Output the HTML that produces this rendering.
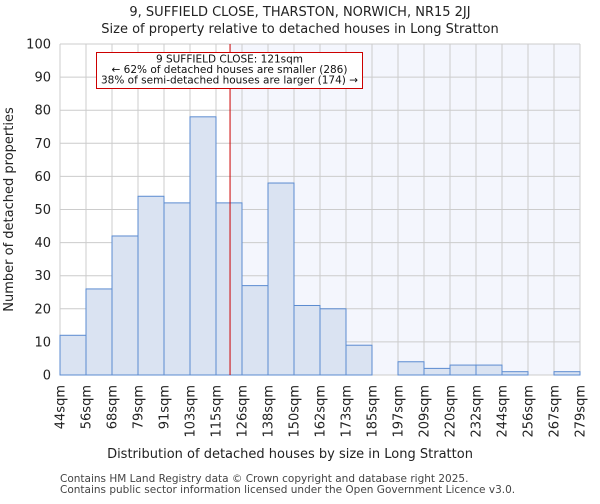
<!DOCTYPE html>
<html><head><meta charset="utf-8"><style>
body{margin:0;background:#fff;font-family:"DejaVu Sans","Liberation Sans",sans-serif}
</style></head><body>
<svg id="c" width="600" height="500" xmlns="http://www.w3.org/2000/svg" font-family="DejaVu Sans, Liberation Sans, sans-serif"></svg>
<script>
const categories=["44sqm","56sqm","68sqm","79sqm","91sqm","103sqm","115sqm","126sqm","138sqm","150sqm","162sqm","173sqm","185sqm","197sqm","209sqm","220sqm","232sqm","244sqm","256sqm","267sqm","279sqm"];
const counts=[12,26,42,54,52,78,52,27,58,21,20,9,0,4,2,3,3,1,0,1];
const yTicks=[0,10,20,30,40,50,60,70,80,90,100];
const markerBin=6.54;
const NS="http://www.w3.org/2000/svg";
const svg=document.getElementById('c');
const L=60,R=580,T=44,B=375;
const bw=(R-L)/counts.length;
const x=i=>L+i*bw;
const y=v=>B-(v/100)*(B-T);
function el(t,a,p){const e=document.createElementNS(NS,t);for(const k in a)e.setAttribute(k,a[k]);(p||svg).appendChild(e);return e;}
function txt(s,a){const e=el('text',a);e.textContent=s;return e;}
const hl=el('rect',{x:x(markerBin),y:T,width:R-x(markerBin),height:B-T,fill:'#f4f6fd'});


for(let i=0;i<=counts.length;i++){const g=el('line',{x1:x(i),x2:x(i),y1:T,y2:B,stroke:'#cccccc','stroke-width':1});

}
yTicks.forEach(v=>{const g=el('line',{x1:L,x2:R,y1:y(v),y2:y(v),stroke:'#cccccc','stroke-width':1});


const t=txt(String(v),{x:L-9,y:y(v)+4.5,'text-anchor':'end','font-size':13,fill:'#222'});

});
counts.forEach((v,i)=>{if(v<=0)return;const b=el('rect',{x:x(i),y:y(v),width:bw,height:B-y(v),fill:'#dae3f2',stroke:'#5b8bd0','stroke-width':1});

});
categories.forEach((c,i)=>{const t=txt(c,{transform:`translate(${x(i)+4.5},${B+10}) rotate(-90)`,'text-anchor':'end','font-size':13,fill:'#222'});

});
const ml=el('line',{x1:x(markerBin),x2:x(markerBin),y1:T,y2:B,stroke:'#cc0000','stroke-width':1});


const ab=el('rect',{x:96.5,y:52.5,width:266,height:36,fill:'#fff',stroke:'#cc0000','stroke-width':1});


["9 SUFFIELD CLOSE: 121sqm","← 62% of detached houses are smaller (286)","38% of semi-detached houses are larger (174) →"].forEach((s,i)=>{
const t=txt(s,{x:229.5,y:62.5+i*10.5,'text-anchor':'middle','font-size':10.5,fill:'#111'});

});
const t1=txt("9, SUFFIELD CLOSE, THARSTON, NORWICH, NR15 2JJ",{x:300,y:16,'text-anchor':'middle','font-size':13,fill:'#222'});


const t2=txt("Size of property relative to detached houses in Long Stratton",{x:300,y:33,'text-anchor':'middle','font-size':13,fill:'#222'});


const xt=txt("Distribution of detached houses by size in Long Stratton",{x:290,y:458,'text-anchor':'middle','font-size':13,fill:'#222'});


const yt=txt("Number of detached properties",{transform:`translate(13,${(T+B)/2}) rotate(-90)`,'text-anchor':'middle','font-size':13,fill:'#222'});


const f1=txt("Contains HM Land Registry data © Crown copyright and database right 2025.",{x:60,y:482,'font-size':10.5,fill:'#444'});


const f2=txt("Contains public sector information licensed under the Open Government Licence v3.0.",{x:60,y:493,'font-size':10.5,fill:'#444'});


</script>
</body></html>
